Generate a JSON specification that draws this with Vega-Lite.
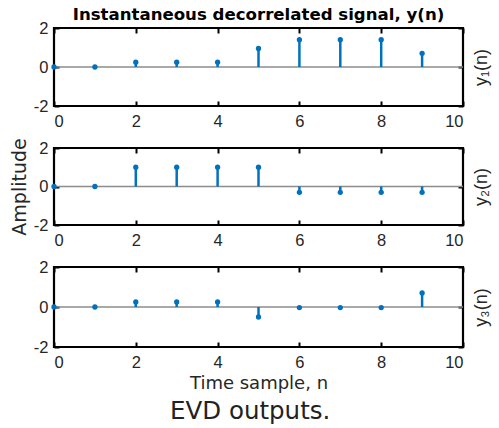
{
  "$schema": "https://vega.github.io/schema/vega-lite/v6.json",
  "padding": {"left": 9, "top": 6, "right": 5, "bottom": 3},
  "background": "white",
  "datasets": {
    "signals": [
      {"n": 0, "value": 0, "series": "y1"},
      {"n": 1, "value": 0, "series": "y1"},
      {"n": 2, "value": 0.25, "series": "y1"},
      {"n": 3, "value": 0.25, "series": "y1"},
      {"n": 4, "value": 0.25, "series": "y1"},
      {"n": 5, "value": 0.95, "series": "y1"},
      {"n": 6, "value": 1.4, "series": "y1"},
      {"n": 7, "value": 1.4, "series": "y1"},
      {"n": 8, "value": 1.4, "series": "y1"},
      {"n": 9, "value": 0.7, "series": "y1"},
      {"n": 0, "value": 0, "series": "y2"},
      {"n": 1, "value": 0, "series": "y2"},
      {"n": 2, "value": 1.0, "series": "y2"},
      {"n": 3, "value": 1.0, "series": "y2"},
      {"n": 4, "value": 1.0, "series": "y2"},
      {"n": 5, "value": 1.0, "series": "y2"},
      {"n": 6, "value": -0.3, "series": "y2"},
      {"n": 7, "value": -0.3, "series": "y2"},
      {"n": 8, "value": -0.3, "series": "y2"},
      {"n": 9, "value": -0.3, "series": "y2"},
      {"n": 0, "value": 0, "series": "y3"},
      {"n": 1, "value": 0, "series": "y3"},
      {"n": 2, "value": 0.25, "series": "y3"},
      {"n": 3, "value": 0.25, "series": "y3"},
      {"n": 4, "value": 0.25, "series": "y3"},
      {"n": 5, "value": -0.5, "series": "y3"},
      {"n": 6, "value": -0.03, "series": "y3"},
      {"n": 7, "value": -0.03, "series": "y3"},
      {"n": 8, "value": -0.03, "series": "y3"},
      {"n": 9, "value": 0.7, "series": "y3"}
    ],
    "zero": [{"z": 0}]
  },
  "title": {
    "text": "EVD outputs.",
    "orient": "bottom",
    "anchor": "middle",
    "font": "DejaVu Sans",
    "fontSize": 24.5,
    "fontWeight": "normal",
    "color": "#222222",
    "offset": 6
  },
  "spacing": 42,
  "bounds": "flush",
  "config": {
    "font": "Liberation Sans",
    "view": {"stroke": "#000000", "strokeWidth": 2.2},
    "axis": {
      "grid": false,
      "domain": false,
      "labelFont": "Liberation Sans",
      "labelFontSize": 16.5,
      "labelColor": "#262626",
      "titleFont": "DejaVu Sans",
      "titleFontSize": 18,
      "titleFontWeight": "normal",
      "titleColor": "#262626",
      "tickColor": "#000000",
      "tickWidth": 2,
      "tickSize": -5
    },
    "axisX": {"labelPadding": 12},
    "axisY": {"labelPadding": 11, "labelExpr": "replace(datum.label, '−', '-')"}
  },
  "vconcat": [
    {
      "width": 409,
      "height": 78,
      "title": {
        "text": "Instantaneous decorrelated signal, y(n)",
        "font": "DejaVu Sans",
        "fontSize": 16.6,
        "fontWeight": "bold",
        "color": "#000000",
        "anchor": "middle",
        "offset": -4
      },
      "layer": [
        {
          "data": {"name": "zero"},
          "mark": {"type": "rule", "color": "#8c8c8c", "strokeWidth": 1.3},
          "encoding": {
            "y": {"field": "z", "type": "quantitative", "scale": {"domain": [-2, 2]},
              "axis": {"orient": "left", "values": [-2, 0, 2], "title": null}}
          }
        },
        {
          "data": {"name": "signals"},
          "transform": [{"filter": "datum.series === 'y1'"}],
          "mark": {"type": "rule", "color": "#0072BD", "strokeWidth": 2.5},
          "encoding": {
            "x": {"field": "n", "type": "quantitative", "scale": {"domain": [0, 10]},
              "axis": {"orient": "bottom", "values": [0, 2, 4, 6, 8, 10], "title": null}},
            "y": {"field": "value", "type": "quantitative", "axis": null},
            "y2": {"datum": 0}
          }
        },
        {
          "data": {"name": "signals"},
          "transform": [{"filter": "datum.series === 'y1'"}],
          "mark": {"type": "point", "filled": true, "color": "#0072BD", "size": 28, "opacity": 1},
          "encoding": {
            "x": {"field": "n", "type": "quantitative",
              "axis": {"orient": "top", "values": [0, 2, 4, 6, 8, 10], "labels": false, "title": null}},
            "y": {"field": "value", "type": "quantitative",
              "axis": {"orient": "right", "values": [-2, 0, 2], "labels": false, "title": "y₁(n)", "titleFont": "Liberation Sans", "titleAngle": 270, "titlePadding": 26, "titleFontSize": 18}}
          }
        }
      ],
      "resolve": {"axis": {"x": "independent", "y": "independent"}}
    },
    {
      "width": 409,
      "height": 77,
      "layer": [
        {
          "data": {"name": "zero"},
          "mark": {"type": "rule", "color": "#8c8c8c", "strokeWidth": 1.3},
          "encoding": {
            "y": {"field": "z", "type": "quantitative", "scale": {"domain": [-2, 2]},
              "axis": {"orient": "left", "values": [-2, 0, 2], "title": "Amplitude", "titleFontSize": 19, "titlePadding": 4}}
          }
        },
        {
          "data": {"name": "signals"},
          "transform": [{"filter": "datum.series === 'y2'"}],
          "mark": {"type": "rule", "color": "#0072BD", "strokeWidth": 2.5},
          "encoding": {
            "x": {"field": "n", "type": "quantitative", "scale": {"domain": [0, 10]},
              "axis": {"orient": "bottom", "values": [0, 2, 4, 6, 8, 10], "title": null}},
            "y": {"field": "value", "type": "quantitative", "axis": null},
            "y2": {"datum": 0}
          }
        },
        {
          "data": {"name": "signals"},
          "transform": [{"filter": "datum.series === 'y2'"}],
          "mark": {"type": "point", "filled": true, "color": "#0072BD", "size": 28, "opacity": 1},
          "encoding": {
            "x": {"field": "n", "type": "quantitative",
              "axis": {"orient": "top", "values": [0, 2, 4, 6, 8, 10], "labels": false, "title": null}},
            "y": {"field": "value", "type": "quantitative",
              "axis": {"orient": "right", "values": [-2, 0, 2], "labels": false, "title": "y₂(n)", "titleFont": "Liberation Sans", "titleAngle": 270, "titlePadding": 26, "titleFontSize": 18}}
          }
        }
      ],
      "resolve": {"axis": {"x": "independent", "y": "independent"}}
    },
    {
      "width": 409,
      "height": 80,
      "layer": [
        {
          "data": {"name": "zero"},
          "mark": {"type": "rule", "color": "#8c8c8c", "strokeWidth": 1.3},
          "encoding": {
            "y": {"field": "z", "type": "quantitative", "scale": {"domain": [-2, 2]},
              "axis": {"orient": "left", "values": [-2, 0, 2], "title": null}}
          }
        },
        {
          "data": {"name": "signals"},
          "transform": [{"filter": "datum.series === 'y3'"}],
          "mark": {"type": "rule", "color": "#0072BD", "strokeWidth": 2.5},
          "encoding": {
            "x": {"field": "n", "type": "quantitative", "scale": {"domain": [0, 10]},
              "axis": {"orient": "bottom", "values": [0, 2, 4, 6, 8, 10], "title": "Time sample, n", "titlePadding": 4}},
            "y": {"field": "value", "type": "quantitative", "axis": null},
            "y2": {"datum": 0}
          }
        },
        {
          "data": {"name": "signals"},
          "transform": [{"filter": "datum.series === 'y3'"}],
          "mark": {"type": "point", "filled": true, "color": "#0072BD", "size": 28, "opacity": 1},
          "encoding": {
            "x": {"field": "n", "type": "quantitative",
              "axis": {"orient": "top", "values": [0, 2, 4, 6, 8, 10], "labels": false, "title": null}},
            "y": {"field": "value", "type": "quantitative",
              "axis": {"orient": "right", "values": [-2, 0, 2], "labels": false, "title": "y₃(n)", "titleFont": "Liberation Sans", "titleAngle": 270, "titlePadding": 26, "titleFontSize": 18}}
          }
        }
      ],
      "resolve": {"axis": {"x": "independent", "y": "independent"}}
    }
  ]
}
